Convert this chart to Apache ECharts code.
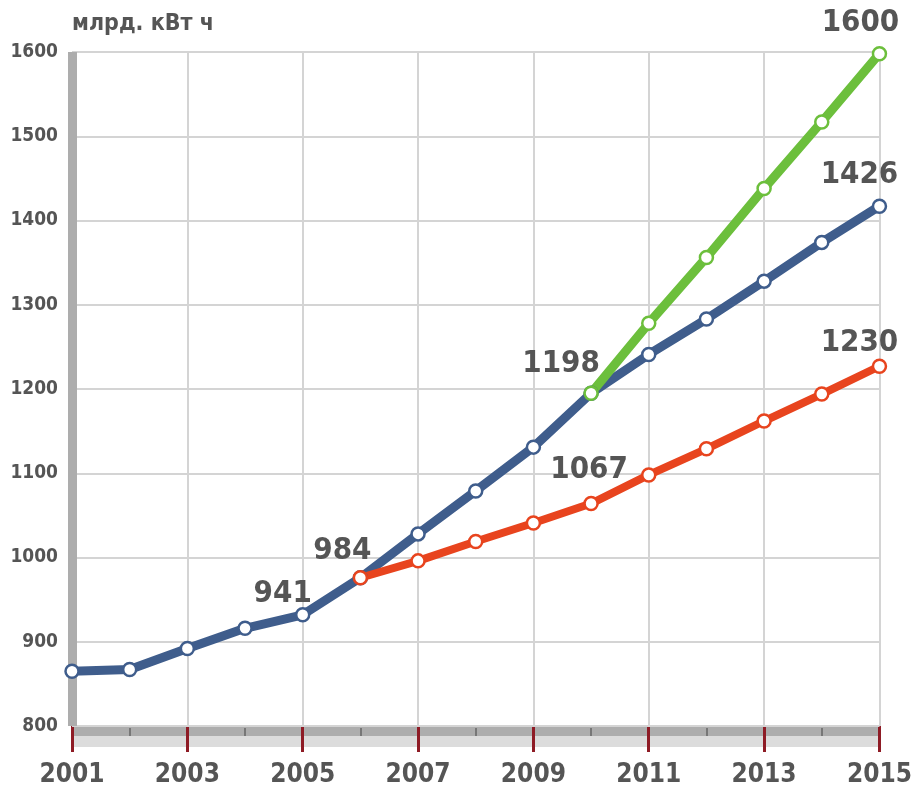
<!DOCTYPE html>
<html>
<head>
<meta charset="utf-8">
<script src="https://cdn.jsdelivr.net/npm/echarts@6/dist/echarts.min.js"></script>
<style>
  html, body { margin: 0; padding: 0; background: #fff; }
  #chart { width: 915px; height: 788px; }
</style>
</head>
<body>
<div id="chart"></div>
<script>
// годы и значения (млрд. кВт ч)
const years = ['2001', '2002', '2003', '2004', '2005', '2006', '2007', '2008',
  '2009', '2010', '2011', '2012', '2013', '2014', '2015'];
const factBase = [865, 867, 892, 916, 932, 976, 1028, 1079, 1131, 1195, 1241, 1283, 1328, 1374, 1417];
const lowCase = [null, null, null, null, null, 976, 996, 1019, 1041, 1064, 1098, 1129, 1162, 1194, 1227];
const highCase = [null, null, null, null, null, null, null, null, null, 1195, 1278, 1356, 1438, 1517, 1598];
const yTicks = [800, 900, 1000, 1100, 1200, 1300, 1400, 1500, 1600];
const unitName = 'млрд. кВт ч';

// подписи над точками: серия, индекс года, текст
const notes = [
  { series: 'base', idx: 4, text: '941' },
  { series: 'low', idx: 5, text: '984' },
  { series: 'high', idx: 9, text: '1198' },
  { series: 'low', idx: 9, text: '1067' },
  { series: 'high', idx: 14, text: '1600' },
  { series: 'base', idx: 14, text: '1426' },
  { series: 'low', idx: 14, text: '1230' }
];
// смещения подписей (стиль)
const noteOffset = {
  '941': [-20, 8], '984': [-18, 2], '1198': [-30, 0], '1067': [-2, -4],
  '1600': [-19, -1], '1426': [-20, -2], '1230': [-20, 6]
};

const FONT = '"DejaVu Sans", sans-serif';
const BOLD = 'bold condensed';
const TXT = '#555555';

function buildData(key, values) {
  return values.map((v, i) => {
    const n = notes.find(o => o.series === key && o.idx === i);
    if (!n || v == null) return v;
    return {
      value: v,
      label: {
        show: true, position: 'top', distance: 6,
        offset: noteOffset[n.text],
        formatter: n.text,
        fontFamily: FONT, fontWeight: BOLD, fontSize: 31, color: TXT
      }
    };
  });
}

function lineSeries(key, name, values, color, width) {
  return {
    name, type: 'line', xAxisIndex: 3, data: buildData(key, values),
    symbol: 'circle', symbolSize: 13, showSymbol: true,
    connectNulls: false,
    lineStyle: { color, width },
    itemStyle: { color: '#ffffff', borderColor: color, borderWidth: 2.5 },
    label: { show: false },
    z: 5
  };
}

const oddOnly = (i) => i % 2 === 0;
const evenOnly = (i) => i % 2 === 1;

const chart = echarts.init(document.getElementById('chart'));
chart.setOption({
  animation: false,
  title: {
    text: unitName, left: 67, top: 8,
    textStyle: { fontFamily: FONT, fontWeight: BOLD, fontSize: 23, color: TXT }
  },
  grid: { left: 72, right: 31, top: 52, bottom: 61 },
  xAxis: [
    // светлая нижняя полоса
    { type: 'category', data: years, boundaryGap: false, position: 'bottom', offset: 15, z: 1,
      axisLine: { show: true, lineStyle: { color: '#dcdcdc', width: 11, cap: 'butt' } },
      axisTick: { show: false }, axisLabel: { show: false }, splitLine: { show: false } },
    // тёмная верхняя полоса
    { type: 'category', data: years, boundaryGap: false, position: 'bottom', offset: 5, z: 1,
      axisLine: { show: true, lineStyle: { color: '#adadad', width: 10, cap: 'butt' } },
      axisTick: { show: false }, axisLabel: { show: false }, splitLine: { show: false } },
    // мелкие засечки чётных лет
    { type: 'category', data: years, boundaryGap: false, position: 'bottom', offset: 10, z: 2,
      axisLine: { show: false },
      axisTick: { show: true, inside: true, length: 8, interval: evenOnly,
        lineStyle: { color: '#777777', width: 2 } },
      axisLabel: { show: false }, splitLine: { show: false } },
    // основная ось: красные засечки, подписи, сетка
    { type: 'category', data: years, boundaryGap: false, position: 'bottom', offset: 0, z: 3,
      axisLine: { show: false },
      axisTick: { show: true, length: 26, interval: oddOnly,
        lineStyle: { color: '#8e1b25', width: 3 } },
      axisLabel: { interval: oddOnly, margin: 36, fontFamily: FONT, fontWeight: BOLD,
        fontSize: 26, color: TXT },
      splitLine: { show: true, interval: oddOnly, lineStyle: { color: '#d4d4d4', width: 2 } } }
  ],
  yAxis: {
    type: 'value', min: yTicks[0], max: yTicks[yTicks.length - 1], interval: 100,
    axisLine: { show: true, lineStyle: { color: '#adadad', width: 9, cap: 'butt' } },
    axisTick: { show: false },
    axisLabel: { margin: 14, fontFamily: FONT, fontWeight: BOLD, fontSize: 19, color: TXT,
      formatter: (v) => String(v) },
    splitLine: { show: true, lineStyle: { color: '#d4d4d4', width: 2 } },
    z: 4
  },
  series: [
    lineSeries('base', 'Базовый', factBase, '#3f5d8c', 9),
    lineSeries('low', 'Низкий', lowCase, '#e8441e', 8),
    lineSeries('high', 'Высокий', highCase, '#6cbf3c', 9)
  ]
});
</script>
</body>
</html>
